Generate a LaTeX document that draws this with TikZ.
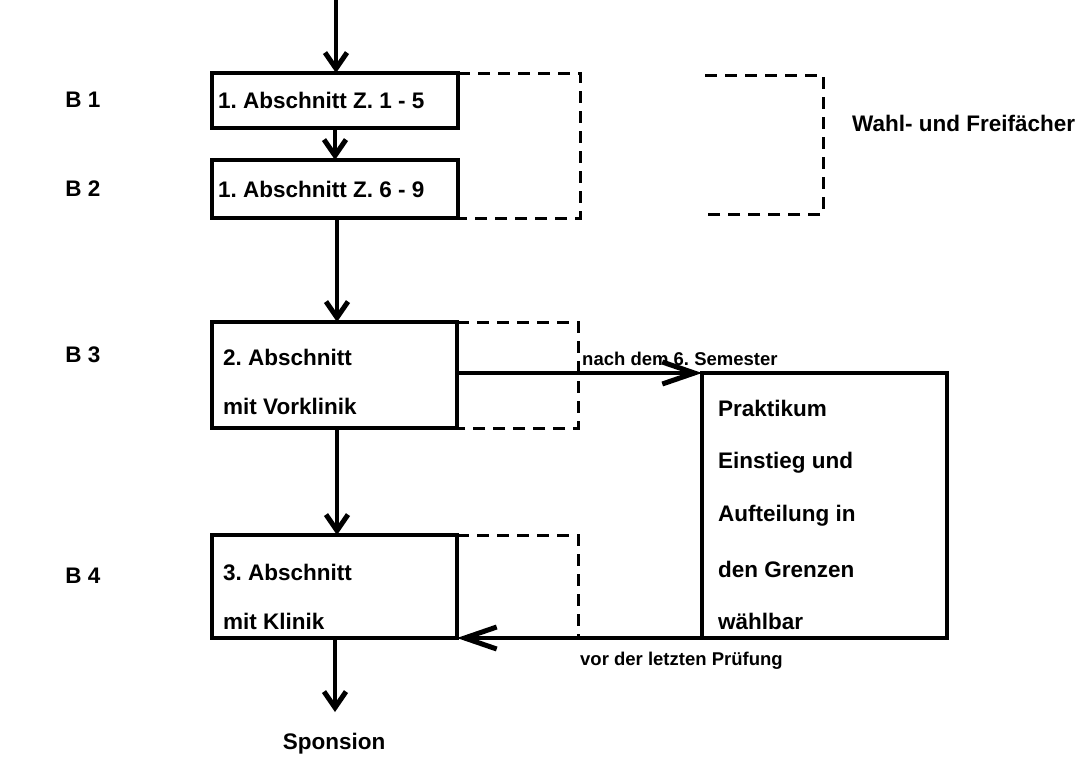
\documentclass[tikz,border=0pt]{standalone}
\usepackage{fontspec}
\setmainfont{Liberation Sans}
\usetikzlibrary{arrows.meta}
\begin{document}
\frenchspacing
\begin{tikzpicture}[x=1pt,y=-1pt,
  box/.style={draw,line width=4pt,anchor=north west,inner sep=0pt,outer sep=0pt},
  dbox/.style={draw,line width=3pt,dash pattern=on 12pt off 8pt},
  lbl/.style={font=\fontsize{22.5}{26}\selectfont\bfseries,inner sep=0pt},
  small/.style={font=\fontsize{18.5}{22}\selectfont\bfseries,inner sep=0pt},
  varr/.style={line width=4pt,-{Straight Barb[length=16pt,width=22pt,line width=5pt]}},
  harr/.style={line width=4pt,-{Straight Barb[length=32pt,width=22pt,line width=5pt]}}]
\useasboundingbox (0,0) rectangle (1091,761);
% boxes
\node[box,minimum width=246pt,minimum height=55pt] (b1) at (212,73) {};
\node[lbl,anchor=west] (t1) at (218,100) {1. Abschnitt Z. 1 - 5};
\node[box,minimum width=246pt,minimum height=58pt] (b2) at (212,160) {};
\node[lbl,anchor=west] (t2) at (218,189) {1. Abschnitt Z. 6 - 9};
\node[box,minimum width=245pt,minimum height=106pt] (b3) at (212,322) {};
\node[lbl,anchor=west] (t3a) at (223,357) {2. Abschnitt};
\node[lbl,anchor=west] (t3b) at (223,406) {mit Vorklinik};
\node[box,minimum width=245pt,minimum height=103pt] (b4) at (212,535) {};
\node[lbl,anchor=west] (t4a) at (223,572) {3. Abschnitt};
\node[lbl,anchor=west] (t4b) at (223,621) {mit Klinik};
\node[box,minimum width=245pt,minimum height=265pt] (p) at (702,373) {};
\node[lbl,anchor=west] (p1) at (718,408) {Praktikum};
\node[lbl,anchor=west] (p2) at (718,463) {Einstieg und};
\node[lbl,anchor=west] (p3) at (718,516) {Aufteilung in};
\node[lbl,anchor=west] (p4) at (718,569) {den Grenzen};
\node[lbl,anchor=west] (p5) at (718,621) {wählbar};
% side labels
\node[lbl] (B1) at (83,100) {B 1};
\node[lbl] (B2) at (83,189) {B 2};
\node[lbl] (B3) at (83,355) {B 3};
\node[lbl] (B4) at (83,576) {B 4};
\node[lbl,anchor=west] (wf) at (852,123) {Wahl- und Freifächer};
\node[lbl] (sp) at (334,744) {Sponsion};
\node[small,anchor=south west] (n6) at (582,366) {nach dem 6. Semester};
\node[small,anchor=north west] (vl) at (580,652) {vor der letzten Prüfung};
% dashed open boxes
\draw[dbox] (b1.north east) -- (580,73) -- (580,218) -- (b2.south east);
\draw[dbox] (705,75) -- (823,75) -- (823,214) -- (705,214);
\draw[dbox] (b3.north east) -- (578,322) -- (578,428) -- (b3.south east);
\draw[dbox] (b4.north east) -- (578,535) -- (578,638);
% arrows
\coordinate (top) at (336,0);
\coordinate (end) at (335,712);
\draw[varr] (top) -- (b1.north -| top);
\draw[varr] (b1.south) -- (b2.north);
\draw[varr] (337,218) -- (337,322);
\draw[varr] (337,428) -- (337,535);
\draw[varr] (335,638) -- (end);
\draw[harr] (b3.east |- p.north west) -- (p.north west);
\draw[harr] (p.south west) -- (b4.south east);
\end{tikzpicture}
\end{document}
